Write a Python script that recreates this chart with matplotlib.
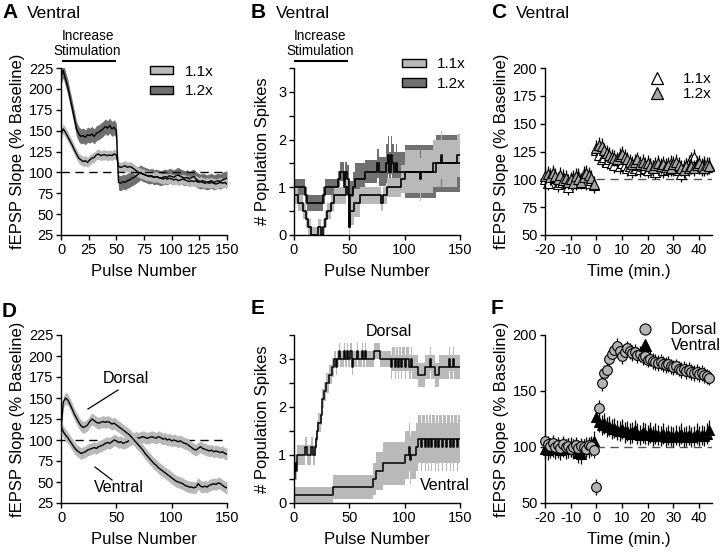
import numpy as np
import matplotlib
matplotlib.use('Agg')
import matplotlib.pyplot as plt
from matplotlib.patches import Patch
from matplotlib.lines import Line2D

plt.rcParams['font.family'] = ['Liberation Sans', 'DejaVu Sans']
plt.rcParams['font.size'] = 10
plt.rcParams['axes.unicode_minus'] = False

# ---------------- DATA ----------------
pulses = np.arange(0, 151, 2)

# Panel A (fEPSP slope, % baseline, ventral)
a_11 = [145, 152, 148, 143, 138, 133, 127, 122, 117, 115,
        113, 114, 112, 115, 117, 118, 121, 122, 120, 121,
        121, 120, 121, 120, 122, 121, 107, 106, 107, 108,
        106, 107, 106, 104, 102, 100, 99, 98, 97, 96,
        96, 95, 94, 95, 94, 93, 92, 93, 92, 93,
        92, 91, 92, 90, 91, 92, 91, 90, 89, 90,
        89, 90, 88, 89, 88, 87, 88, 87, 88, 87,
        86, 87, 88, 87, 88, 86]
a_12 = [215, 222, 212, 203, 190, 178, 165, 152, 146, 143,
        144, 142, 145, 144, 146, 143, 147, 148, 150, 152,
        155, 153, 156, 152, 154, 150, 88, 87, 89, 88,
        90, 91, 93, 94, 96, 98, 100, 98, 97, 96,
        95, 96, 94, 95, 94, 93, 94, 95, 94, 96,
        95, 94, 96, 97, 95, 94, 93, 94, 92, 94,
        95, 92, 90, 89, 90, 89, 88, 89, 90, 88,
        89, 90, 89, 91, 92, 93]
a_sem_11 = 6
a_sem_12 = 9

# Panel B (# population spikes, ventral) step series
b11_x = [0, 4, 8, 11, 13, 15, 22, 24, 26, 28, 30, 33, 36, 44, 47, 49, 50, 51, 54, 60,
         79, 80, 84, 97, 100, 114, 115, 126, 133, 134, 147, 150]
b11_y = [0.83, 0.67, 0.5, 0.33, 0.17, 0.0, 0.17, 0.0, 0.17, 0.33, 0.5, 0.67, 0.83, 0.83, 1.0, 0.83,
         0.17, 0.5, 0.67, 0.83, 0.67, 0.83, 1.0, 1.17, 1.33, 1.17, 1.33, 1.5, 1.67, 1.5, 1.67, 1.67]
b11_e = [0.17, 0.17, 0.17, 0.17, 0.17, 0.17, 0.17, 0.17, 0.17, 0.17, 0.17, 0.17, 0.17, 0.17, 0.17, 0.17,
         0.3, 0.3, 0.3, 0.17, 0.17, 0.17, 0.2, 0.3, 0.45, 0.45, 0.45, 0.5, 0.5, 0.5, 0.45, 0.45]
b12_x = [0, 10, 12, 26, 28, 40, 42, 45, 46, 48, 50, 51, 53, 55, 64, 75, 77, 83, 85, 86,
         88, 89, 90, 92, 93, 100, 128, 150]
b12_y = [1.0, 0.83, 0.67, 0.83, 1.0, 1.17, 1.33, 1.0, 1.33, 1.17, 0.17, 0.83, 1.0, 1.17, 1.33, 1.5,
         1.33, 1.5, 1.67, 1.33, 1.67, 1.5, 1.33, 1.5, 1.33, 1.33, 1.5, 1.5]
b12_e = [0.17, 0.17, 0.17, 0.17, 0.17, 0.17, 0.2, 0.3, 0.2, 0.3, 0.3, 0.3, 0.33, 0.33, 0.25, 0.3,
         0.3, 0.4, 0.4, 0.4, 0.4, 0.4, 0.4, 0.4, 0.4, 0.55, 0.6, 0.6]

# Panel C (LTP, ventral, 1.1x and 1.2x)
c_time = list(range(-20, 0)) + list(range(0, 45))
c_11 = [100, 97, 103, 104, 101, 96, 98, 102, 97, 93, 99, 101, 97, 103, 99, 105, 97, 102, 99, 95,
        126, 122, 118, 120, 116, 118, 115, 113, 117, 112, 115, 113, 110, 112, 108, 110, 113, 109,
        112, 110, 108, 112, 110, 107, 113, 110, 108, 112, 109, 115, 110, 112, 108, 105, 110, 112,
        115, 118, 120, 114, 112, 110, 114, 111, 113]
c_12 = [103, 105, 102, 106, 103, 100, 104, 99, 101, 98, 100, 97, 103, 100, 98, 102, 106, 104, 101, 96,
        128, 131, 130, 126, 124, 122, 120, 119, 118, 121, 123, 120, 118, 116, 114, 116, 118, 114,
        116, 113, 115, 112, 110, 113, 115, 112, 114, 111, 113, 110, 114, 116, 113, 110, 108, 112,
        110, 112, 110, 113, 115, 112, 110, 113, 112]
c_err = 7

# Panel D (fEPSP slope, dorsal vs ventral)
d_dorsal = [110, 145, 150, 148, 143, 137, 131, 126, 121, 117,
            115, 116, 118, 122, 125, 123, 121, 120, 121, 122,
            121, 122, 121, 119, 120, 118, 116, 114, 112, 110,
            108, 106, 103, 100, 97, 94, 91, 88, 84, 81,
            78, 75, 72, 70, 67, 65, 63, 61, 59, 57,
            55, 53, 51, 50, 49, 48, 46, 45, 44, 44,
            43, 44, 48, 45, 44, 45, 44, 46, 47, 48,
            47, 49, 48, 46, 44, 43]
d_ventral = [118, 110, 106, 103, 99, 95, 91, 88, 86, 84,
             85, 86, 88, 89, 90, 91, 90, 92, 93, 94,
             96, 97, 96, 98, 100, 99, 97, 98, 96, 97,
             98, 100, 101, 102, 103, 102, 103, 104, 103, 102,
             103, 104, 103, 102, 104, 103, 101, 102, 100, 101,
             99, 100, 99, 98, 99, 97, 96, 95, 93, 91,
             89, 88, 90, 92, 90, 89, 88, 87, 88, 86,
             87, 86, 85, 86, 84, 83]
d_sem = 7

# Panel E (# population spikes, dorsal vs ventral) step series
e_d_x = [0, 1, 2, 3, 10, 12, 15, 17, 19, 20, 21, 22, 24, 25, 27, 29, 32, 34, 36, 38,
         39, 41, 42, 45, 46, 48, 49, 51, 52, 53, 57, 58, 61, 62, 64, 65, 72, 78, 88, 89,
         91, 92, 94, 95, 97, 98, 100, 101, 104, 106, 107, 112, 118, 123, 124, 127, 131, 140, 141, 144,
         145, 150]
e_d_y = [0.5, 0.83, 0.67, 1.0, 1.17, 1.0, 1.17, 1.0, 1.17, 1.33, 1.5, 1.67, 1.83, 2.17, 2.33, 2.5,
         2.67, 2.83, 3.0, 2.83, 3.0, 3.17, 3.0, 3.17, 3.0, 3.17, 3.0, 3.17, 2.83, 3.0, 3.17, 3.0,
         3.17, 3.0, 3.17, 3.0, 3.17, 3.0, 2.83, 3.0, 2.83, 3.0, 2.83, 3.0, 2.83, 3.0, 2.83, 3.0,
         2.83, 3.0, 2.83, 2.67, 2.83, 3.0, 2.83, 2.67, 2.83, 3.0, 2.83, 3.0, 2.83, 2.83]
e_d_e = [0.2, 0.2, 0.2, 0.2, 0.2, 0.2, 0.2, 0.2, 0.2, 0.2, 0.2, 0.2, 0.2, 0.2, 0.2, 0.2,
         0.2, 0.2, 0.17, 0.17, 0.17, 0.17, 0.17, 0.17, 0.17, 0.17, 0.17, 0.17, 0.17, 0.17, 0.17, 0.17,
         0.17, 0.17, 0.17, 0.17, 0.17, 0.17, 0.25, 0.25, 0.25, 0.25, 0.25, 0.25, 0.25, 0.25, 0.25, 0.25,
         0.25, 0.25, 0.25, 0.25, 0.25, 0.25, 0.25, 0.25, 0.25, 0.25, 0.25, 0.25, 0.25, 0.25]
e_v_x = [0, 35, 71, 74, 80, 100, 104, 105, 106, 110, 112, 115, 116, 118, 119, 121, 122, 124, 125, 127,
         128, 130, 131, 134, 135, 137, 138, 141, 142, 144, 145, 147, 148, 150]
e_v_y = [0.17, 0.33, 0.5, 0.67, 0.83, 1.0, 1.17, 0.9, 1.0, 1.17, 1.33, 1.17, 1.33, 1.17, 1.33, 1.17,
         1.33, 1.17, 1.33, 1.17, 1.33, 1.17, 1.33, 1.17, 1.33, 1.17, 1.33, 1.17, 1.33, 1.17, 1.33, 1.17,
         1.33, 1.33]
e_v_e = [0.17, 0.25, 0.33, 0.4, 0.45, 0.5, 0.5, 0.5, 0.5, 0.5, 0.5, 0.5, 0.5, 0.5, 0.5, 0.5,
         0.5, 0.5, 0.5, 0.5, 0.5, 0.5, 0.5, 0.5, 0.5, 0.5, 0.5, 0.5, 0.5, 0.5, 0.5, 0.5,
         0.5, 0.5]

# Panel F (LTP, dorsal vs ventral)
f_time = list(range(-20, 0)) + list(range(0, 45))
f_dorsal = [105, 103, 101, 104, 100, 102, 99, 103, 100, 101, 98, 100, 102, 99, 101, 100, 98, 102, 101, 97,
            64, 135, 157, 166, 169, 179, 183, 187, 190, 186, 181, 185, 188, 186, 184, 185, 182, 183,
            180, 181, 178, 179, 177, 176, 175, 176, 174, 173, 174, 172, 171, 172, 170, 169, 170, 168,
            169, 167, 166, 167, 165, 166, 164, 163, 162]
f_ventral = [98, 97, 99, 100, 98, 99, 97, 100, 98, 99, 100, 98, 99, 95, 94, 98, 100, 99, 101, 105,
             127, 122, 120, 121, 118, 119, 116, 117, 115, 114, 116, 113, 114, 112, 113, 115, 112, 111,
             113, 112, 111, 113, 110, 112, 111, 110, 112, 109, 111, 110, 109, 111, 110, 112, 109, 110,
             111, 109, 110, 112, 110, 111, 110, 112, 115]
f_err_d = 7
f_err_v = 9

# ---------------- FIGURE ----------------
W, H = 720, 554
fig = plt.figure(figsize=(W / 100, H / 100), dpi=100)


def px_axes(l, t, r, b):
    return fig.add_axes([l / W, 1 - b / H, (r - l) / W, (b - t) / H])


axA = px_axes(61, 68, 227, 235)
axB = px_axes(294, 68, 460, 235)
axC = px_axes(545, 68, 712, 235)
axD = px_axes(61, 335, 227, 503)
axE = px_axes(294, 335, 460, 503)
axF = px_axes(545, 335, 712, 503)

LIGHT = '#b9b9b9'
DARK = '#707070'


def style(ax):
    for s in ['top', 'right']:
        ax.spines[s].set_visible(False)
    for s in ['left', 'bottom']:
        ax.spines[s].set_linewidth(1.0)
    ax.tick_params(direction='out', length=3.5, width=1.0, labelsize=10.5, pad=2)


def stim(ax, x0, x1, xc):
    tr = ax.get_xaxis_transform()
    ax.plot([x0, x1], [1.042, 1.042], transform=tr, color='k', lw=1.5, clip_on=False,
            solid_capstyle='butt')
    ax.text(xc, 1.058, 'Increase\nStimulation', transform=tr, ha='center', va='bottom',
            fontsize=9.8, linespacing=1.15)


def fig_label(x, y, letter, title=None):
    fig.text(x / W, 1 - y / H, letter, fontsize=15, fontweight='bold', va='baseline')
    if title:
        fig.text((x + 25) / W, 1 - y / H, title, fontsize=12.5, va='baseline')


patch_kw = dict(frameon=False, handlelength=1.55, handleheight=0.45, handletextpad=0.75,
                labelspacing=0.38, fontsize=11, borderpad=0, borderaxespad=0)

# ---- A ----
ax = axA
style(ax)
p = np.array(pulses)
ax.fill_between(p, np.array(a_12) - a_sem_12, np.array(a_12) + a_sem_12, color=DARK, lw=0, zorder=1)
ax.fill_between(p, np.array(a_11) - a_sem_11, np.array(a_11) + a_sem_11, color=LIGHT, lw=0, zorder=2)
ax.plot(p, a_12, color='k', lw=1.0, zorder=3)
ax.plot(p, a_11, color='k', lw=1.0, zorder=3)
ax.axhline(100, color='k', ls=(0, (6, 4)), lw=1.0, zorder=4)
ax.set_xlim(0, 150)
ax.set_ylim(25, 225)
ax.set_xticks(np.arange(0, 151, 25))
ax.set_yticks(np.arange(25, 226, 25))
ax.set_xlabel('Pulse Number', fontsize=12, labelpad=5)
ax.set_ylabel('fEPSP Slope (% Baseline)', fontsize=12, labelpad=3)
stim(ax, 1, 50, 24)
ax.legend([Patch(facecolor=LIGHT, edgecolor='k', lw=1), Patch(facecolor=DARK, edgecolor='k', lw=1)],
          ['1.1x', '1.2x'], loc='upper left', bbox_to_anchor=(0.535, 1.02), **patch_kw)

# ---- B ----
ax = axB
style(ax)
bx12, by12, be12 = np.array(b12_x), np.array(b12_y), np.array(b12_e)
bx11, by11, be11 = np.array(b11_x), np.array(b11_y), np.array(b11_e)
ax.fill_between(bx12, by12 - be12, by12 + be12, step='post', color=DARK, lw=0, zorder=1)
ax.fill_between(bx11, by11 - be11, by11 + be11, step='post', color=LIGHT, lw=0, zorder=2)
ax.plot(bx12, by12, drawstyle='steps-post', color='k', lw=1.2, zorder=3)
ax.plot(bx11, by11, drawstyle='steps-post', color='k', lw=1.2, zorder=3)
ax.set_xlim(0, 150)
ax.set_ylim(0, 3.5)
ax.set_xticks([0, 50, 100, 150])
ax.set_yticks(np.arange(0, 3.51, 0.5))
ax.set_yticklabels(['0', '', '1', '', '2', '', '3', ''])
ax.set_xlabel('Pulse Number', fontsize=12, labelpad=5)
ax.set_ylabel('# Population Spikes', fontsize=12, labelpad=6)
stim(ax, 0, 49, 23.5)
ax.legend([Patch(facecolor=LIGHT, edgecolor='k', lw=1), Patch(facecolor=DARK, edgecolor='k', lw=1)],
          ['1.1x', '1.2x'], loc='upper left', bbox_to_anchor=(0.65, 1.065), **patch_kw)

# ---- C ----
ax = axC
style(ax)
ax.hlines(100, 0, 45, colors='#555555', linestyles=(0, (6, 4)), lw=1.0, zorder=1)
ax.errorbar(c_time, c_11, yerr=c_err, fmt='^', ms=7, mfc='white', mec='k', mew=0.8,
            ecolor='k', elinewidth=0.9, capsize=0, zorder=2, clip_on=False)
ax.errorbar(c_time, c_12, yerr=c_err, fmt='^', ms=7, mfc='#a6a6a6', mec='k', mew=0.8,
            ecolor='k', elinewidth=0.9, capsize=0, zorder=3, clip_on=False)
ax.set_xlim(-20, 45)
ax.set_ylim(50, 200)
ax.set_xticks(np.arange(-20, 41, 10))
ax.set_yticks(np.arange(50, 201, 25))
ax.set_xlabel('Time (min.)', fontsize=12, labelpad=5)
ax.set_ylabel('fEPSP Slope (% Baseline)', fontsize=12, labelpad=3)
ax.legend([Line2D([], [], marker='^', ls='none', ms=8, mfc='white', mec='k', mew=0.9),
           Line2D([], [], marker='^', ls='none', ms=8, mfc='#a6a6a6', mec='k', mew=0.9)],
          ['1.1x', '1.2x'], loc='upper right', bbox_to_anchor=(1.0, 0.975), frameon=False,
          handlelength=1.0, handletextpad=1.25, labelspacing=0.05, fontsize=11,
          borderpad=0, borderaxespad=0)

# ---- D ----
ax = axD
style(ax)
dv, dd = np.array(d_ventral), np.array(d_dorsal)
ax.fill_between(p, dv - d_sem, dv + d_sem, color=LIGHT, lw=0, zorder=1)
ax.plot(p, dv, color='k', lw=1.0, zorder=2)
ax.fill_between(p, dd - d_sem, dd + d_sem, color=LIGHT, lw=0, zorder=3)
ax.plot(p, dd, color='k', lw=1.0, zorder=4)
ax.axhline(100, color='k', ls=(0, (6, 4)), lw=1.0, zorder=0)
ax.set_xlim(0, 150)
ax.set_ylim(25, 225)
ax.set_xticks([0, 50, 100, 150])
ax.set_yticks(np.arange(25, 226, 25))
ax.set_xlabel('Pulse Number', fontsize=12, labelpad=5)
ax.set_ylabel('fEPSP Slope (% Baseline)', fontsize=12, labelpad=3)
ax.text(58.7, 173.8, 'Dorsal', ha='center', va='center', fontsize=11.5)
ax.plot([51.5, 24.4], [159.5, 136.9], color='k', lw=0.9)
ax.text(52.4, 42.9, 'Ventral', ha='center', va='center', fontsize=11.5)
ax.plot([30.7, 46.1], [67.8, 52.4], color='k', lw=0.9)

# ---- E ----
ax = axE
style(ax)
edx, edy, ede = np.array(e_d_x), np.array(e_d_y), np.array(e_d_e)
evx, evy, eve = np.array(e_v_x), np.array(e_v_y), np.array(e_v_e)
ax.fill_between(evx, evy - eve, evy + eve, step='post', color=LIGHT, lw=0, zorder=1)
ax.fill_between(edx, edy - ede, edy + ede, step='post', color=LIGHT, lw=0, zorder=1)
ax.plot(evx, evy, drawstyle='steps-post', color='k', lw=1.1, zorder=3)
ax.plot(edx, edy, drawstyle='steps-post', color='k', lw=1.1, zorder=3)
ax.set_xlim(0, 150)
ax.set_ylim(0, 3.5)
ax.set_xticks([0, 50, 100, 150])
ax.set_yticks(np.arange(0, 3.51, 0.5))
ax.set_yticklabels(['0', '', '1', '', '2', '', '3', ''])
ax.set_xlabel('Pulse Number', fontsize=12, labelpad=5)
ax.set_ylabel('# Population Spikes', fontsize=12, labelpad=6)
ax.text(85.8, 3.58, 'Dorsal', ha='center', va='center', fontsize=11.5, clip_on=False)
ax.text(136.4, 0.37, 'Ventral', ha='center', va='center', fontsize=11.5, clip_on=False)

# ---- F ----
ax = axF
style(ax)
ax.hlines(100, 0, 45, colors='#555555', linestyles=(0, (6, 4)), lw=1.0, zorder=1)
ax.errorbar(f_time, f_ventral, yerr=f_err_v, fmt='^', ms=6.5, mfc='k', mec='k', mew=0.8,
            ecolor='k', elinewidth=0.9, capsize=0, zorder=2, clip_on=False)
ax.errorbar(f_time, f_dorsal, yerr=f_err_d, fmt='o', ms=7, mfc='#b3b3b3', mec='k', mew=0.8,
            ecolor='k', elinewidth=0.9, capsize=0, zorder=3, clip_on=False)
ax.set_xlim(-20, 45)
ax.set_ylim(50, 200)
ax.set_xticks(np.arange(-20, 41, 10))
ax.set_yticks([50, 100, 150, 200])
ax.set_xlabel('Time (min.)', fontsize=12, labelpad=5)
ax.set_ylabel('fEPSP Slope (% Baseline)', fontsize=12, labelpad=3)
ax.legend([Line2D([], [], marker='o', ls='none', ms=8, mfc='#b3b3b3', mec='k', mew=0.8),
           Line2D([], [], marker='^', ls='none', ms=8, mfc='k', mec='k', mew=0.8)],
          ['Dorsal', 'Ventral'], loc='upper right', bbox_to_anchor=(1.05, 1.075), frameon=False,
          handlelength=1.0, handletextpad=1.1, labelspacing=0.05, fontsize=11.5,
          borderpad=0, borderaxespad=0)

# panel letters / titles
fig_label(2, 18, 'A', 'Ventral')
fig_label(251, 18, 'B', 'Ventral')
fig_label(491, 18, 'C', 'Ventral')
fig_label(2, 317, 'D')
fig_label(251, 314, 'E')
fig_label(491, 314, 'F')

fig.savefig('out.png', dpi=100)
